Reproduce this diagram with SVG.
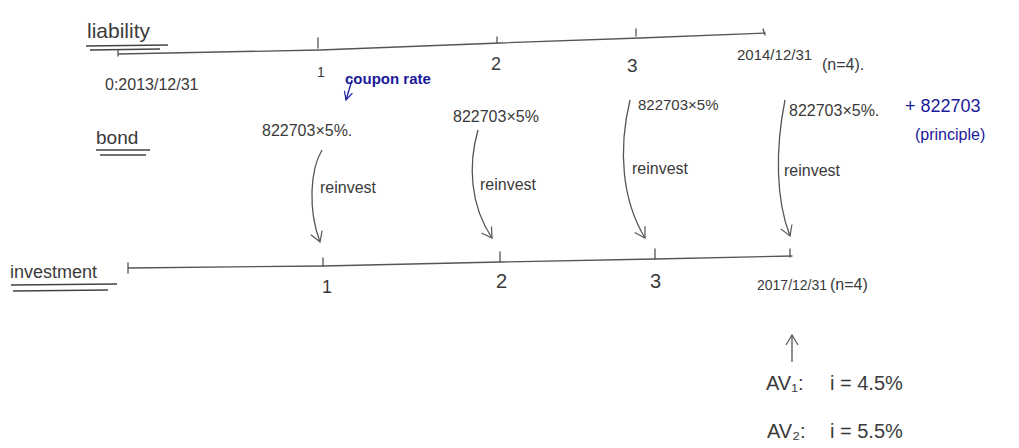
<svg xmlns="http://www.w3.org/2000/svg" width="1019" height="448" viewBox="0 0 1019 448">
<style>
.t{font-family:"Liberation Sans",Arial,sans-serif;fill:#3a3a3a;}
.b{font-family:"Liberation Sans",Arial,sans-serif;fill:#1a1a9a;}
.ln{stroke:#555;stroke-width:1.3;fill:none;stroke-linecap:round;}
.ul{stroke:#444;stroke-width:1.6;fill:none;}
.ar{stroke:#555;stroke-width:1.3;fill:none;}
</style>
<defs>
<marker id="ah" viewBox="0 0 12 14" refX="11" refY="7" markerWidth="12" markerHeight="14" markerUnits="userSpaceOnUse" orient="auto">
<path d="M1,1 L11,7 L1,13" fill="none" stroke="#555" stroke-width="1.2"/>
</marker>
<marker id="ahb" viewBox="0 0 12 12" refX="11" refY="6" markerWidth="10" markerHeight="10" markerUnits="userSpaceOnUse" orient="auto">
<path d="M1,1 L11,6 L1,11" fill="none" stroke="#1a1a9a" stroke-width="1.4"/>
</marker>
</defs>
<rect width="1019" height="448" fill="#ffffff"/>

<g id="liability-label">
<text class="t" x="87" y="38" font-size="21">liability</text>
<path class="ul" d="M86,46 L168,45 M90,50 L160,49"/>
</g>
<g id="bond-label">
<text class="t" x="96" y="144" font-size="19">bond</text>
<path class="ul" d="M96,150 L150,150 M100,155 L146,155"/>
</g>
<g id="investment-label">
<text class="t" x="10" y="278" font-size="18">investment</text>
<path class="ul" d="M11,285 L117,284 M13,291 L108,290"/>
</g>

<g id="liability-timeline">
<path class="ln" d="M118,50 L118,56 M118,54 L320,50 L500,43 L640,38 L765,33"/>
<path class="ln" d="M318,38 L318,48 M497,37 L497,43 M636,29 L636,36 M763,29 L765,35"/>
<text class="t" x="317" y="77" font-size="14">1</text>
<text class="t" x="491" y="70" font-size="18">2</text>
<text class="t" x="627" y="72" font-size="19">3</text>
<text class="t" x="105" y="90" font-size="16">0:2013/12/31</text>
<text class="t" x="737" y="60" font-size="15">2014/12/31</text>
<text class="t" x="822" y="70" font-size="16">(n=4).</text>
</g>

<g id="coupons">
<text class="t" x="262" y="136" font-size="16">822703×5%.</text>
<text class="t" x="453" y="122" font-size="16">822703×5%</text>
<text class="t" x="638" y="110" font-size="15">822703×5%</text>
<text class="t" x="789" y="116" font-size="16">822703×5%.</text>
</g>

<g id="coupon-rate">
<text class="b" x="345" y="84" font-size="15" font-weight="bold">coupon rate</text>
<path d="M352,80 L346,100" stroke="#1a1a9a" stroke-width="1.3" fill="none" marker-end="url(#ahb)"/>
</g>

<g id="principal">
<text class="b" x="905" y="112" font-size="18">+ 822703</text>
<text class="b" x="915" y="140" font-size="16">(principle)</text>
</g>

<g id="reinvest-arrows">
<path class="ar" d="M322,150 C310,170 308,210 320,242" marker-end="url(#ah)"/>
<path class="ar" d="M478,130 C468,165 470,205 492,238" marker-end="url(#ah)"/>
<path class="ar" d="M630,100 C618,150 622,200 645,238" marker-end="url(#ah)"/>
<path class="ar" d="M785,100 C775,150 776,200 790,236" marker-end="url(#ah)"/>
<text class="t" x="320" y="193" font-size="16">reinvest</text>
<text class="t" x="480" y="190" font-size="16">reinvest</text>
<text class="t" x="632" y="174" font-size="16">reinvest</text>
<text class="t" x="784" y="176" font-size="16">reinvest</text>
</g>

<g id="investment-timeline">
<path class="ln" d="M128,263 L128,273 M128,268 L323,266 L500,262 L655,259 L792,256"/>
<path class="ln" d="M323,258 L323,266 M500,252 L500,262 M655,249 L655,259 M790,249 L790,257"/>
<text class="t" x="322" y="293" font-size="18">1</text>
<text class="t" x="496" y="288" font-size="20">2</text>
<text class="t" x="650" y="288" font-size="20">3</text>
<text class="t" x="757" y="290" font-size="14">2017/12/31</text>
<text class="t" x="830" y="290" font-size="16">(n=4)</text>
</g>

<g id="av">
<path d="M792,362 L792,335" stroke="#555" stroke-width="1.3" fill="none" marker-end="url(#ah)"/>
<text class="t" x="766" y="390" font-size="20">AV₁:</text>
<text class="t" x="830" y="390" font-size="20">i = 4.5%</text>
<text class="t" x="767" y="438" font-size="20">AV₂:</text>
<text class="t" x="830" y="438" font-size="20">i = 5.5%</text>
</g>
</svg>
